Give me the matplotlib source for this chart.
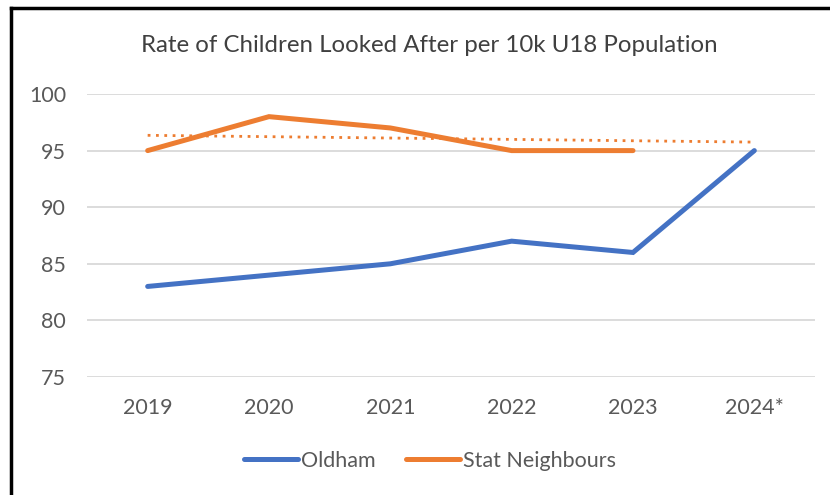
import matplotlib

matplotlib.use("Agg")
import matplotlib.pyplot as plt
from matplotlib.lines import Line2D

YEARS = ["2019", "2020", "2021", "2022", "2023", "2024*"]
OLDHAM = [83, 84, 85, 87, 86, 95]
STAT_NEIGHBOURS = [95, 98, 97, 95, 95]
# dotted trendline of Stat Neighbours, endpoints
TREND_X = [0, 5]
TREND_Y = [96.35, 95.75]

BLUE = "#4472C4"
ORANGE = "#ED7D31"
GREY = "#595959"

plt.rcParams["font.family"] = ["Lato", "DejaVu Sans"]

fig = plt.figure(figsize=(8.3, 4.95), dpi=100)
ax = fig.add_axes([87 / 830, 1 - 377 / 495, 728 / 830, 283 / 495])

x = list(range(len(YEARS)))
ax.plot(x, OLDHAM, color=BLUE, lw=3.6, solid_capstyle="round", solid_joinstyle="miter", zorder=3)
ax.plot(x[:len(STAT_NEIGHBOURS)], STAT_NEIGHBOURS, color=ORANGE, lw=3.6,
        solid_capstyle="round", solid_joinstyle="miter", zorder=3)
ax.plot(TREND_X, TREND_Y, color=ORANGE, lw=2.0, linestyle=(0, (1, 2.0)), zorder=2)

ax.set_xlim(-0.5, len(YEARS) - 0.5)
ax.set_ylim(75, 100)
ax.set_yticks(range(75, 101, 5))
ax.set_xticks(x)
ax.set_xticklabels(YEARS)
ax.grid(axis="y", color="#d9d9d9", lw=1.3)
ax.set_axisbelow(True)
for s in ax.spines.values():
    s.set_visible(False)
ax.tick_params(length=0, labelsize=15.5, colors=GREY)
ax.tick_params(axis="y", pad=15)
ax.tick_params(axis="x", pad=15)

fig.text(429 / 830, 1 - 46 / 495, "Rate of Children Looked After per 10k U18 Population",
         ha="center", va="center", fontsize=17.3, color="#404040")

handles = [Line2D([], [], color=BLUE, lw=3.6, solid_capstyle="round"),
           Line2D([], [], color=ORANGE, lw=3.6, solid_capstyle="round")]
fig.legend(handles, ["Oldham", "Stat Neighbours"], loc="center",
           bbox_to_anchor=(430 / 830, 1 - 461 / 495), ncol=2, frameon=False,
           fontsize=15.5, labelcolor=GREY, handlelength=2.5, handletextpad=0.15,
           columnspacing=1.4)

# black frame on the top and left edges
fig.add_artist(Line2D([11 / 830, 11 / 830], [0, 1 - 8 / 495], color="black", lw=2.5))
fig.add_artist(Line2D([11 / 830, 1], [1 - 8 / 495, 1 - 8 / 495], color="black", lw=2.5))

fig.savefig("out.png", dpi=100)
